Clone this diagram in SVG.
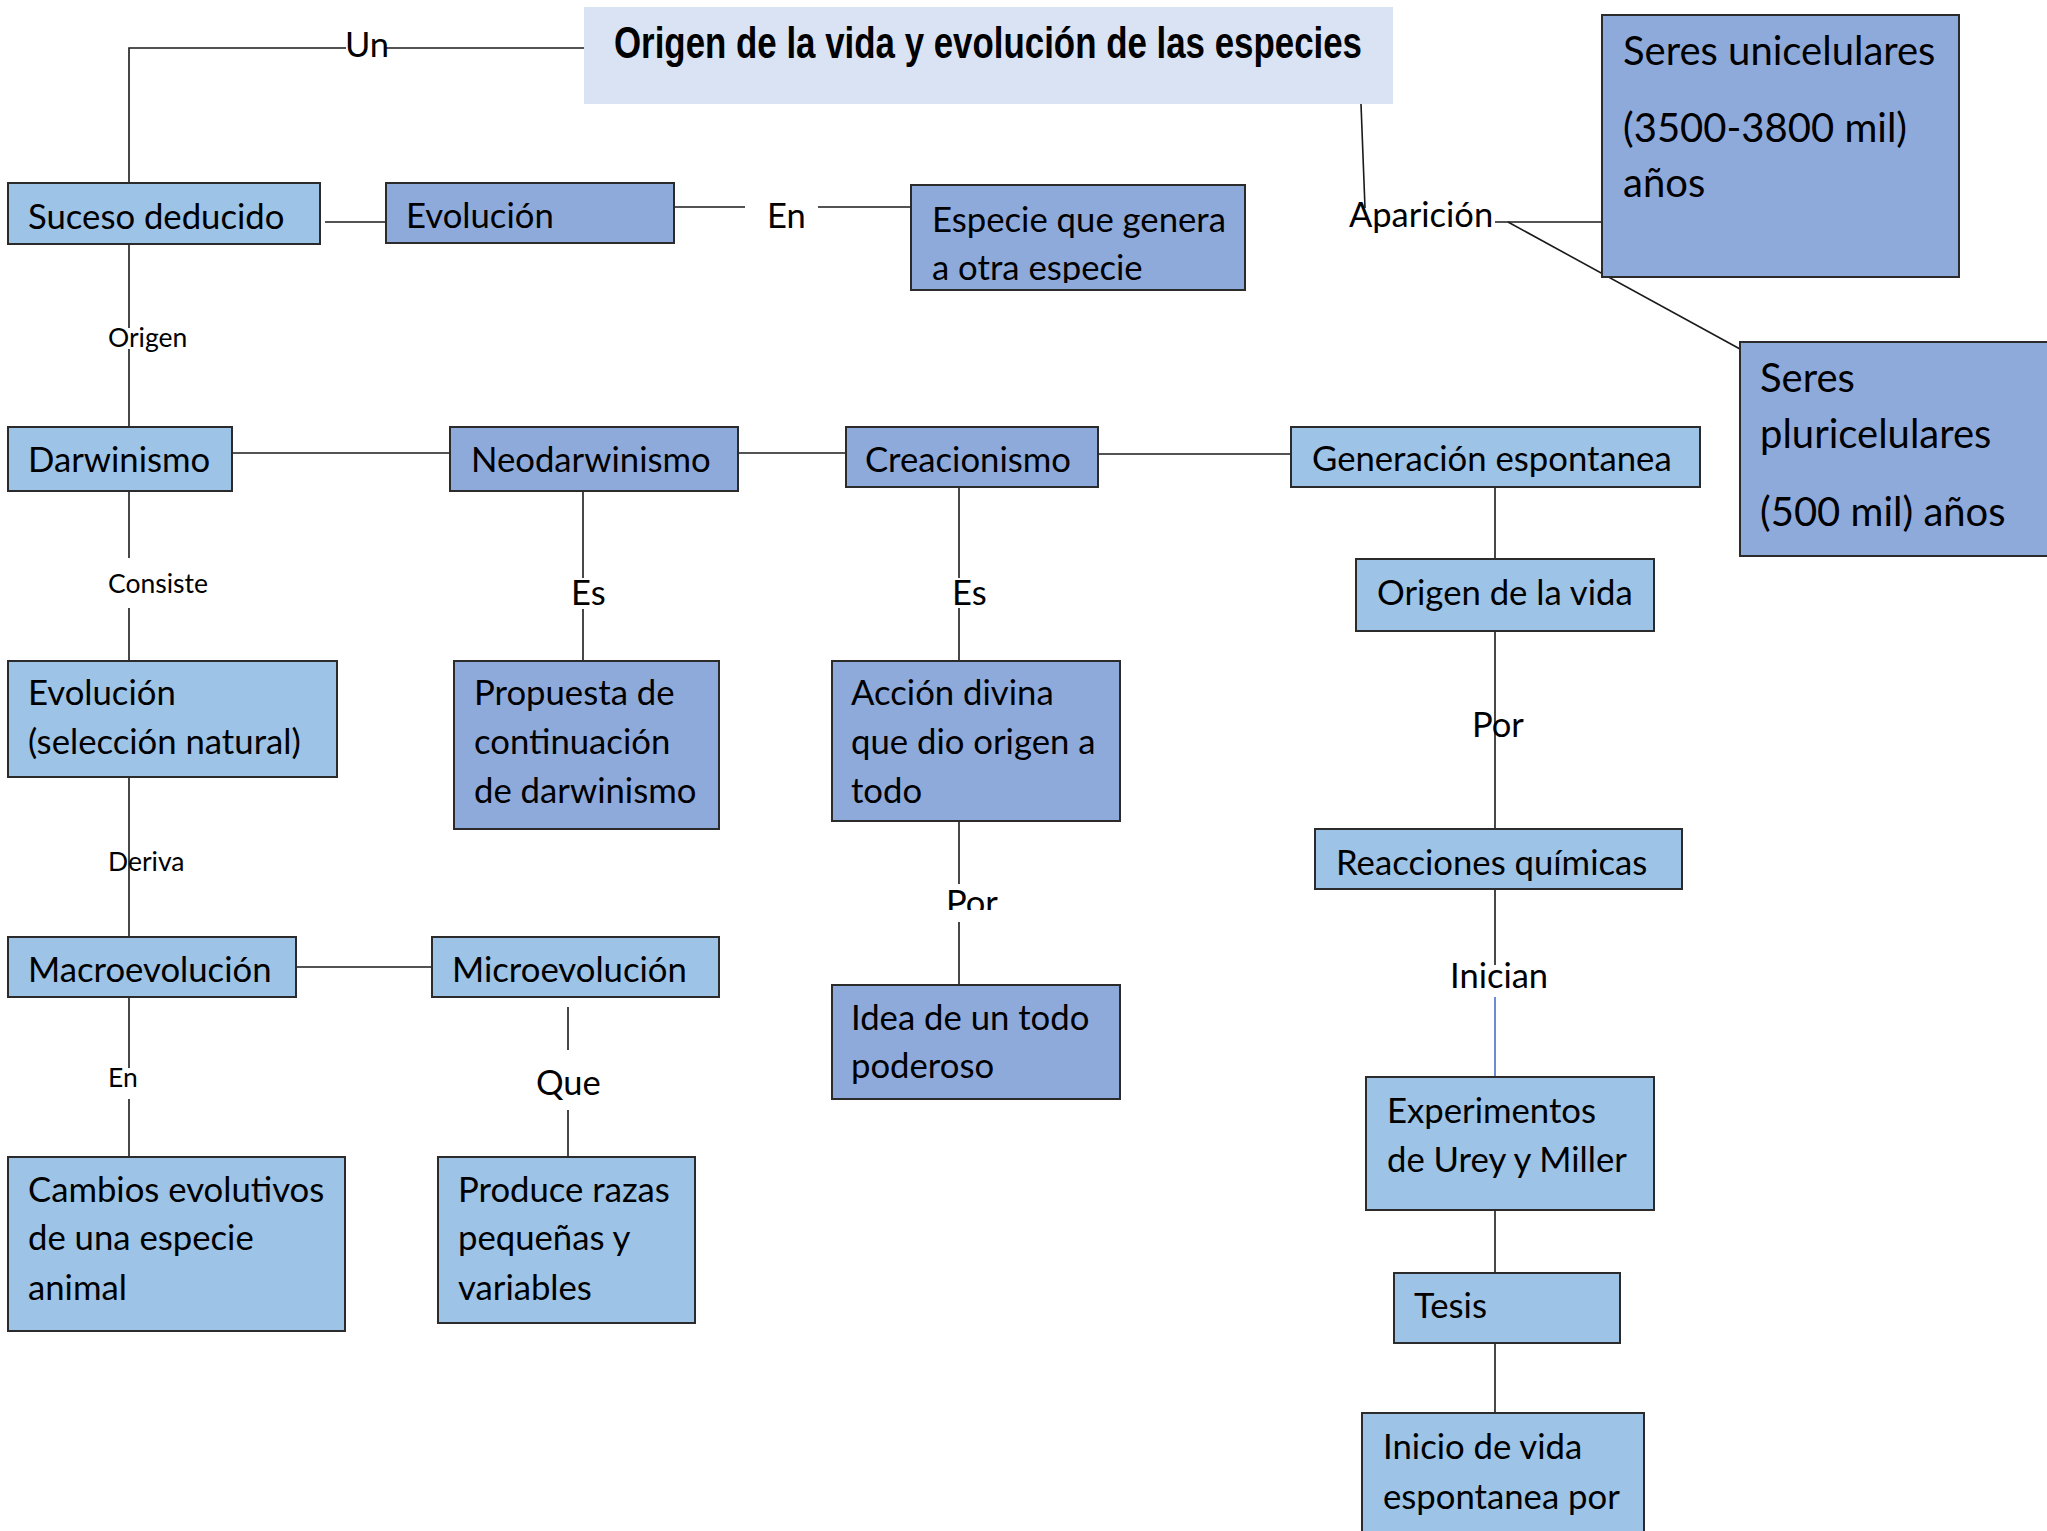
<svg xmlns="http://www.w3.org/2000/svg" width="2047" height="1531" viewBox="0 0 2047 1531">
<defs>
<style>
.L{fill:#9dc3e6;stroke:#2b2b2b;stroke-width:2}
.M{fill:#8eaadb;stroke:#2b2b2b;stroke-width:2}
.t{font-family:Lato,"Open Sans",sans-serif;font-size:34.7px;fill:#000}
.big{font-size:40px}
.sm{font-family:Lato,"Open Sans",sans-serif;font-size:26.5px;fill:#000}
.lb{font-family:Lato,"Open Sans",sans-serif;font-size:34.5px;fill:#000}
.c line,.c polyline{stroke:#1a1a1a;stroke-width:1.6;fill:none}
</style>
<clipPath id="clipEsp"><rect x="911" y="185" width="334" height="98"/></clipPath>
<clipPath id="clipPor"><rect x="900" y="860" width="120" height="50"/></clipPath>
</defs>
<rect width="2047" height="1531" fill="#fff"/>

<g id="connectors" class="c">
<polyline points="584,48 386,48"/>
<polyline points="346,48 129,48 129,183"/>
<line x1="1361" y1="104" x2="1365" y2="208"/>
<line x1="1495" y1="222" x2="1602" y2="222"/>
<line x1="1508" y1="222" x2="1740" y2="349"/>
<line x1="325" y1="222" x2="386" y2="222"/>
<line x1="674" y1="207" x2="745" y2="207"/>
<line x1="818" y1="207" x2="911" y2="207"/>
<line x1="129" y1="244" x2="129" y2="328"/>
<line x1="129" y1="349" x2="129" y2="427"/>
<line x1="232" y1="453" x2="450" y2="453"/>
<line x1="738" y1="453" x2="846" y2="453"/>
<line x1="1098" y1="454" x2="1291" y2="454"/>
<line x1="129" y1="491" x2="129" y2="558"/>
<line x1="129" y1="608" x2="129" y2="661"/>
<line x1="583" y1="491" x2="583" y2="578"/>
<line x1="583" y1="609" x2="583" y2="661"/>
<line x1="959" y1="487" x2="959" y2="578"/>
<line x1="959" y1="608" x2="959" y2="661"/>
<line x1="959" y1="821" x2="959" y2="884"/>
<line x1="959" y1="922" x2="959" y2="985"/>
<line x1="1495" y1="487" x2="1495" y2="559"/>
<line x1="1495" y1="631" x2="1495" y2="829"/>
<line x1="1495" y1="889" x2="1495" y2="965"/>
<line x1="1495" y1="997" x2="1495" y2="1077" style="stroke:#4472c4"/>
<line x1="1495" y1="1210" x2="1495" y2="1273"/>
<line x1="1495" y1="1343" x2="1495" y2="1413"/>
<line x1="129" y1="777" x2="129" y2="937"/>
<line x1="296" y1="967" x2="432" y2="967"/>
<line x1="129" y1="997" x2="129" y2="1068"/>
<line x1="129" y1="1099" x2="129" y2="1157"/>
<line x1="568" y1="1007" x2="568" y2="1050"/>
<line x1="568" y1="1110" x2="568" y2="1157"/>
</g>

<g id="labels">
<text class="lb" x="345" y="57">Un</text>
<text class="lb" x="1349" y="227">Aparición</text>
<text class="lb" x="767" y="228">En</text>
<text class="sm" x="108" y="347">Origen</text>
<text class="sm" x="108" y="593">Consiste</text>
<text class="lb" x="571" y="605">Es</text>
<text class="lb" x="952" y="605">Es</text>
<text class="lb" x="946" y="915" clip-path="url(#clipPor)">Por</text>
<text class="lb" x="1472" y="737">Por</text>
<text class="lb" x="1450" y="988">Inician</text>
<text class="sm" x="108" y="871">Deriva</text>
<text class="sm" x="108" y="1087">En</text>
<text class="lb" x="536" y="1095">Que</text>
</g>

<g id="title">
<rect x="584" y="7" width="809" height="97" fill="#dae3f3"/>
<text x="614" y="58" font-family="'Liberation Sans',Arial,sans-serif" font-weight="bold" font-size="44" textLength="748" lengthAdjust="spacingAndGlyphs">Origen de la vida y evolución de las especies</text>
</g>

<g id="suceso"><rect class="L" x="8" y="183" width="312" height="61"/><text class="t" x="28" y="229">Suceso deducido</text></g>
<g id="evolucion"><rect class="M" x="386" y="183" width="288" height="60"/><text class="t" x="406" y="228">Evolución</text></g>
<g id="especie"><rect class="M" x="911" y="185" width="334" height="105"/><text class="t" x="932" y="232">Especie que genera</text><text class="t" x="932" y="280" clip-path="url(#clipEsp)">a otra especie</text></g>
<g id="unicelulares"><rect class="M" x="1602" y="15" width="357" height="262"/><text class="t big" x="1623" y="65">Seres unicelulares</text><text class="t big" x="1623" y="142">(3500-3800 mil)</text><text class="t big" x="1623" y="197">años</text></g>
<g id="pluricelulares"><rect class="M" x="1740" y="342" width="330" height="214"/><text class="t big" x="1760" y="392">Seres</text><text class="t big" x="1760" y="448">pluricelulares</text><text class="t big" x="1760" y="526">(500 mil) años</text></g>
<g id="darwinismo"><rect class="L" x="8" y="427" width="224" height="64"/><text class="t" x="28" y="472">Darwinismo</text></g>
<g id="neodarwinismo"><rect class="M" x="450" y="427" width="288" height="64"/><text class="t" x="471" y="472">Neodarwinismo</text></g>
<g id="creacionismo"><rect class="M" x="846" y="427" width="252" height="60"/><text class="t" x="865" y="472">Creacionismo</text></g>
<g id="generacion"><rect class="L" x="1291" y="427" width="409" height="60"/><text class="t" x="1312" y="471">Generación espontanea</text></g>
<g id="seleccion"><rect class="L" x="8" y="661" width="329" height="116"/><text class="t" x="28" y="705">Evolución</text><text class="t" x="28" y="754">(selección natural)</text></g>
<g id="propuesta"><rect class="M" x="454" y="661" width="265" height="168"/><text class="t" x="474" y="705">Propuesta de</text><text class="t" x="474" y="754">continuación</text><text class="t" x="474" y="803">de darwinismo</text></g>
<g id="accion"><rect class="M" x="832" y="661" width="288" height="160"/><text class="t" x="851" y="705">Acción divina</text><text class="t" x="851" y="754">que dio origen a</text><text class="t" x="851" y="803">todo</text></g>
<g id="origenvida"><rect class="L" x="1356" y="559" width="298" height="72"/><text class="t" x="1377" y="605">Origen de la vida</text></g>
<g id="macro"><rect class="L" x="8" y="937" width="288" height="60"/><text class="t" x="28" y="982">Macroevolución</text></g>
<g id="micro"><rect class="L" x="432" y="937" width="287" height="60"/><text class="t" x="452" y="982">Microevolución</text></g>
<g id="idea"><rect class="M" x="832" y="985" width="288" height="114"/><text class="t" x="851" y="1030">Idea de un todo</text><text class="t" x="851" y="1078">poderoso</text></g>
<g id="reacciones"><rect class="L" x="1315" y="829" width="367" height="60"/><text class="t" x="1336" y="875">Reacciones químicas</text></g>
<g id="cambios"><rect class="L" x="8" y="1157" width="337" height="174"/><text class="t" x="28" y="1202">Cambios evolutivos</text><text class="t" x="28" y="1250">de una especie</text><text class="t" x="28" y="1300">animal</text></g>
<g id="produce"><rect class="L" x="438" y="1157" width="257" height="166"/><text class="t" x="458" y="1202">Produce razas</text><text class="t" x="458" y="1250">pequeñas y</text><text class="t" x="458" y="1300">variables</text></g>
<g id="experimentos"><rect class="L" x="1366" y="1077" width="288" height="133"/><text class="t" x="1387" y="1123">Experimentos</text><text class="t" x="1387" y="1172">de Urey y Miller</text></g>
<g id="tesis"><rect class="L" x="1394" y="1273" width="226" height="70"/><text class="t" x="1414" y="1318">Tesis</text></g>
<g id="inicio"><rect class="L" x="1362" y="1413" width="282" height="140"/><text class="t" x="1383" y="1459">Inicio de vida</text><text class="t" x="1383" y="1509">espontanea por</text></g>
</svg>
